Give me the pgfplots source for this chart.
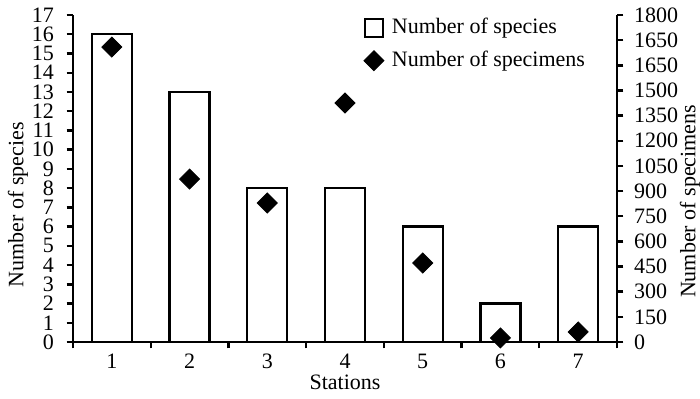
\documentclass[border=0pt]{standalone}
\usepackage{fontspec}
\setmainfont{Liberation Serif}
\usepackage{pgfplots}
\pgfplotsset{compat=1.18}
\begin{document}
\fontsize{11}{13}\selectfont
\begin{tikzpicture}
\useasboundingbox (-36.5pt,-28pt) rectangle (313.5pt,171pt);
\begin{axis}[
  scale only axis, width=272pt, height=163.5pt,
  xmin=0.5, xmax=7.5, ymin=0, ymax=17,
  axis x line*=bottom, axis y line*=left,
  axis line style={-, line width=1.25pt},
  tick align=outside, major tick length=3.2pt,
  tick style={line width=1.2pt, black},
  xtick={0.5,1.5,...,7.5}, xticklabels={},
  extra x ticks={1,2,3,4,5,6,7},
  extra x tick labels={1,2,3,4,5,6,7},
  extra x tick style={major tick length=0pt},
  ytick={0,1,...,17},
  /pgf/number format/assume math mode=true,
  ticklabel style={font=\fontsize{11}{13}\selectfont},
  xticklabel style={yshift=-2pt},
  yticklabel style={xshift=-2.5pt},
  label style={font=\fontsize{11}{13}\selectfont},
  xlabel={Stations}, ylabel={Number of species},
  xlabel style={at={(axis description cs:0.5,-0.122)}, anchor=center},
  ylabel style={at={(axis description cs:-0.101,0.42)}, anchor=center, rotate=0},
]
\addplot[ybar, bar width=20pt, fill=white, draw=black, line width=1.2pt]
  coordinates {(1,16) (2,13) (3,8) (4,8) (5,6) (6,2) (7,6)};
\end{axis}
\begin{axis}[
  scale only axis, width=272pt, height=163.5pt,
  xmin=0.5, xmax=7.5, ymin=0, ymax=1950,
  axis x line=none, axis y line*=right,
  axis line style={-, line width=1.25pt},
  tick align=outside, major tick length=3.2pt,
  tick style={line width=1.2pt, black},
  ytick={0,150,...,1950},
  yticklabels={0,150,300,450,600,750,900,1050,1200,1350,1500,1650,1650,1800},
  ticklabel style={font=\fontsize{11}{13}\selectfont},
  yticklabel style={xshift=1.5pt},
  label style={font=\fontsize{11}{13}\selectfont},
  ylabel={Number of specimens},
  ylabel style={at={(axis description cs:1.134,0.43)}, anchor=center, rotate=0},
  clip=false,
  legend style={at={(axis description cs:0.523,1.015)}, anchor=north west, draw=none, fill=none,
    font=\fontsize{11}{13}\selectfont, row sep=3pt, column sep=2pt},
  legend cell align=left,
]
\addlegendimage{black, only marks, mark=square, mark size=4.5pt, mark options={line width=1pt}}
\addplot[black, only marks, mark=square*, mark size=3.54pt, mark options={rotate=45, fill=black, draw=black}]
  coordinates {(1,1759) (2,972) (3,829) (4,1425) (5,471) (6,24) (7,60)};
\legend{Number of species, Number of specimens}
\end{axis}
\end{tikzpicture}
\end{document}
